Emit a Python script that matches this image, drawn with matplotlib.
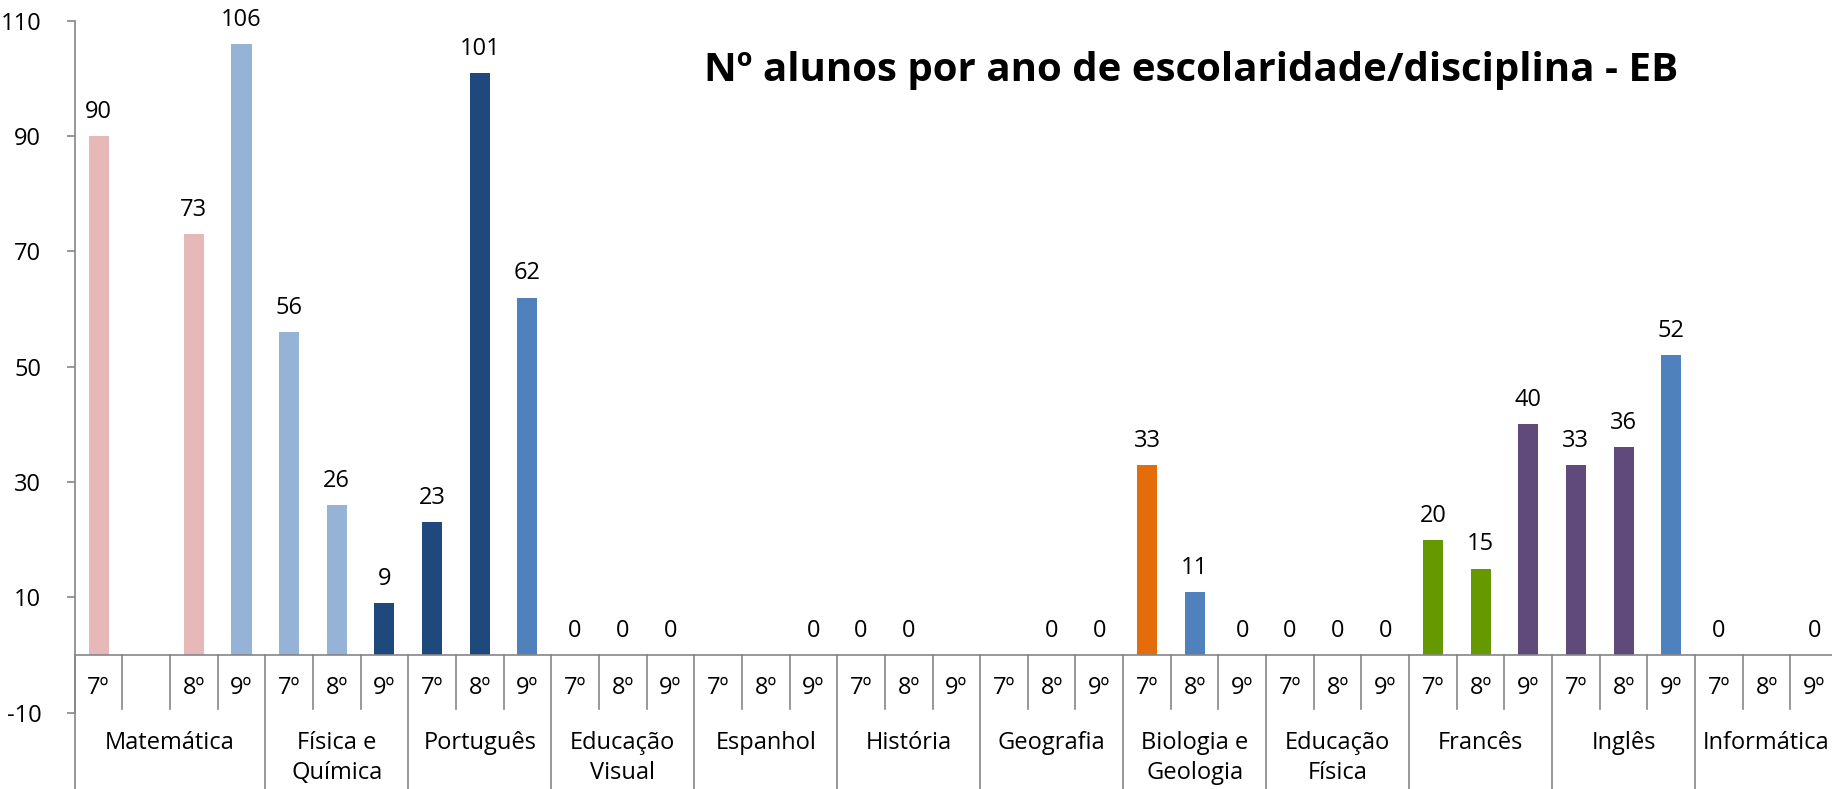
import matplotlib
matplotlib.use("Agg")
import matplotlib.pyplot as plt
from matplotlib.lines import Line2D

plt.rcParams['font.family'] = ['Open Sans', 'DejaVu Sans']
plt.rcParams['axes.unicode_minus'] = False

# ---------------- data ----------------
subjects = ["Matemática", "Física e\nQuímica", "Português", "Educação\nVisual", "Espanhol",
            "História", "Geografia", "Biologia e\nGeologia", "Educação\nFísica", "Francês",
            "Inglês", "Informática"]
grades = [["7º", "", "8º", "9º"], ["7º", "8º", "9º"], ["7º", "8º", "9º"], ["7º", "8º", "9º"],
          ["7º", "8º", "9º"], ["7º", "8º", "9º"], ["7º", "8º", "9º"], ["7º", "8º", "9º"],
          ["7º", "8º", "9º"], ["7º", "8º", "9º"], ["7º", "8º", "9º"], ["7º", "8º", "9º"]]
# None = no bar / no label
values = [[90, None, 73, 106], [56, 26, 9], [23, 101, 62], [0, 0, 0],
          [None, None, 0], [0, 0, None], [None, 0, 0], [33, 11, 0],
          [0, 0, 0], [20, 15, 40], [33, 36, 52], [0, None, 0]]
yticks = [-10, 10, 30, 50, 70, 90, 110]
title = "Nº alunos por ano de escolaridade/disciplina - EB"

# ---------------- style ----------------
PINK, LBLUE, DBLUE, MBLUE = "#E6B9B8", "#95B3D7", "#1F497D", "#4F81BD"
ORANGE, GREEN, PURPLE = "#E46C0A", "#669900", "#604A7B"
colors = [[PINK, None, PINK, LBLUE], [LBLUE, LBLUE, DBLUE], [DBLUE, DBLUE, MBLUE],
          [MBLUE] * 3, [MBLUE] * 3, [MBLUE] * 3, [MBLUE] * 3, [ORANGE, MBLUE, MBLUE],
          [MBLUE] * 3, [GREEN, GREEN, PURPLE], [PURPLE, PURPLE, MBLUE], [MBLUE] * 3]
AX_GRAY = "#868686"
FS = 17

W, H = 1833, 789
fig = plt.figure(figsize=(W / 100, H / 100), dpi=100)
x0, x1 = 74.7, 1838.0
y_top, y_bot = 20.7, 712.7
ax = fig.add_axes([x0 / W, (H - y_bot) / H, (x1 - x0) / W, (y_bot - y_top) / H])

nslots = sum(len(g) for g in grades)
ax.set_xlim(0, nslots)
ax.set_ylim(-10, 110)

slot = 0
for gi, (subj, gl, vals, cols) in enumerate(zip(subjects, grades, values, colors)):
    start = slot
    for lab, v, c in zip(gl, vals, cols):
        xc = slot + 0.5
        if v is not None:
            if v > 0:
                ax.bar(xc, v, width=0.42, color=c, zorder=2)
            ax.annotate(str(v), (xc, v), xytext=(0, 13), textcoords="offset points",
                        ha="center", va="baseline", fontsize=FS, color="black")
        ax.text(xc, -5.7, lab, ha="center", va="center", fontsize=FS, color="black")
        if slot > start:
            ax.add_line(Line2D([slot, slot], [0, -9.3], color=AX_GRAY, lw=1.2, clip_on=False))
        slot += 1
    # group separator at start
    ax.add_line(Line2D([start, start], [0, -25], color=AX_GRAY, lw=1.2, clip_on=False))
    lines = subj.split("\n")
    gx = (start + slot) / 2
    for li, txt in enumerate(lines):
        ax.text(gx, -15.2 - li * 5.3, txt, ha="center", va="center", fontsize=FS,
                color="black", clip_on=False)
ax.add_line(Line2D([slot, slot], [0, -25], color=AX_GRAY, lw=1.2, clip_on=False))

ax.axhline(0, color=AX_GRAY, lw=1.2, zorder=3)

for s in ["top", "right", "bottom"]:
    ax.spines[s].set_visible(False)
ax.spines["left"].set_color(AX_GRAY)
ax.spines["left"].set_linewidth(1.2)
ax.set_xticks([])
ax.set_yticks(yticks)
ax.tick_params(axis="y", direction="out", length=6, width=1.2, color=AX_GRAY,
               labelsize=FS, pad=18)

fig.text(1191 / W, 1 - 70 / H, title, ha="center", va="center", fontsize=29,
         fontweight="bold", color="black")

fig.savefig("out.png", dpi=100)
